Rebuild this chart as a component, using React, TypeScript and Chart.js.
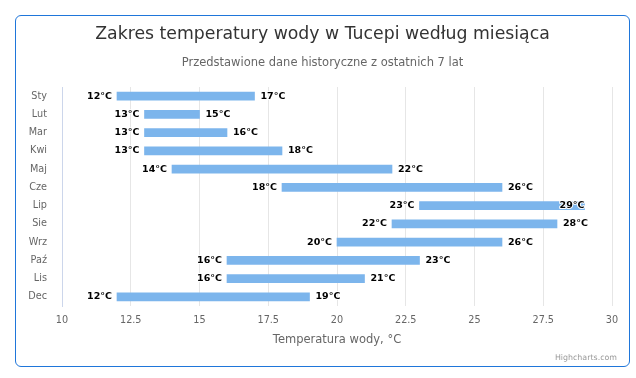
import React, { useEffect, useRef } from "react";
import { Chart, registerables } from "chart.js";

Chart.register(...registerables);

const months = ["Sty", "Lut", "Mar", "Kwi", "Maj", "Cze", "Lip", "Sie", "Wrz", "Paź", "Lis", "Dec"];
const lowTemps = [12, 13, 13, 13, 14, 18, 23, 22, 20, 16, 16, 12];
const highTemps = [17, 15, 16, 18, 22, 26, 29, 28, 26, 23, 21, 19];
const titleText = "Zakres temperatury wody w Tucepi według miesiąca";
const subtitleText = "Przedstawione dane historyczne z ostatnich 7 lat";
const axisTitleText = "Temperatura wody, °C";
const creditsText = "Highcharts.com";

const FONT = '"DejaVu Sans", Verdana, sans-serif';

const rangeLabels = {
  id: "rangeLabels",
  afterDatasetsDraw(chart: any) {
    const { ctx, chartArea } = chart;
    const xs = chart.scales.x;
    const meta = chart.getDatasetMeta(0);
    ctx.save();
    ctx.font = `bold 9.5px ${FONT}`;
    ctx.textBaseline = "middle";
    ctx.lineJoin = "round";
    ctx.lineWidth = 2;
    ctx.strokeStyle = "#ffffff";
    ctx.fillStyle = "#000000";
    const draw = (t: string, x: number, y: number, align: CanvasTextAlign) => {
      ctx.textAlign = align;
      ctx.strokeText(t, x, y);
      ctx.fillText(t, x, y);
    };
    meta.data.forEach((bar: any, i: number) => {
      const y = bar.y;
      const xl = xs.getPixelForValue(lowTemps[i]);
      const xh = xs.getPixelForValue(highTemps[i]);
      const lt = lowTemps[i] + "\u00B0C";
      const ht = highTemps[i] + "\u00B0C";
      draw(lt, xl - 5, y, "right");
      const w = ctx.measureText(ht).width;
      if (xh + 6 + w > chartArea.right) draw(ht, xh, y, "right");
      else draw(ht, xh + 6, y, "left");
    });
    ctx.restore();
  },
  afterDraw(chart: any) {
    const { ctx } = chart;
    ctx.save();
    ctx.textAlign = "center";
    ctx.textBaseline = "middle";
    ctx.font = `17.3px ${FONT}`;
    ctx.fillStyle = "#333333";
    ctx.fillText(titleText, 322.5, 35);
    ctx.font = `11.5px ${FONT}`;
    ctx.fillStyle = "#666666";
    ctx.fillText(subtitleText, 322.5, 63);
    ctx.font = `7.9px ${FONT}`;
    ctx.fillStyle = "#999999";
    ctx.textAlign = "right";
    ctx.fillText(creditsText, 617, 357.5);
    ctx.restore();
  },
};

export default function App() {
  const ref = useRef<HTMLCanvasElement>(null);
  useEffect(() => {
    if (!ref.current) return;
    Chart.defaults.font.family = FONT;
    const chart = new Chart(ref.current, {
      type: "bar",
      data: {
        labels: months,
        datasets: [
          {
            data: lowTemps.map((l, i) => [l, highTemps[i]]) as any,
            backgroundColor: "#7cb5ec",
            borderWidth: 0,
            barThickness: 8,
          },
        ],
      },
      options: {
        indexAxis: "y",
        responsive: false,
        animation: false,
        layout: { padding: { left: 0, right: 24, top: 87, bottom: 0 } },
        plugins: {
          legend: { display: false },
          tooltip: { enabled: false },
          title: { display: false },
        },
        scales: {
          x: {
            type: "linear",
            min: 10,
            max: 30,
            ticks: {
              stepSize: 2.5,
              color: "#666666",
              font: { size: 9.7, family: FONT, lineHeight: 1.2 },
              padding: 9,
              callback: (v: any) => String(v),
            },
            grid: { color: "#e6e6e6", drawTicks: false, lineWidth: 1 },
            border: { display: false },
            title: {
              display: true,
              text: axisTitleText,
              color: "#666666",
              font: { size: 11.5, family: FONT, lineHeight: 1.2 },
              padding: { top: 0, bottom: 31 },
            },
            afterFit: (s: any) => {
              s.height = 72;
            },
          },
          y: {
            type: "category",
            ticks: {
              color: "#666666",
              font: { size: 9.7, family: FONT, lineHeight: 1.2 },
              padding: 15,
            },
            grid: { display: false, drawTicks: false },
            border: { display: true, color: "#ccd6eb", width: 1 },
            afterFit: (s: any) => {
              s.width = 62;
            },
          },
        },
      },
      plugins: [rangeLabels],
    });
    return () => chart.destroy();
  }, []);

  return (
    <div style={{ position: "absolute", left: 0, top: 0, width: 636, height: 378, background: "#ffffff" }}>
      <div
        style={{
          position: "absolute",
          left: 14.5,
          top: 14.5,
          width: 615,
          height: 352,
          boxSizing: "border-box",
          border: "1.5px solid #1f76da",
          borderRadius: 6,
        }}
      />
      <canvas ref={ref} width={636} height={378} style={{ position: "absolute", left: 0, top: 0 }} />
    </div>
  );
}
